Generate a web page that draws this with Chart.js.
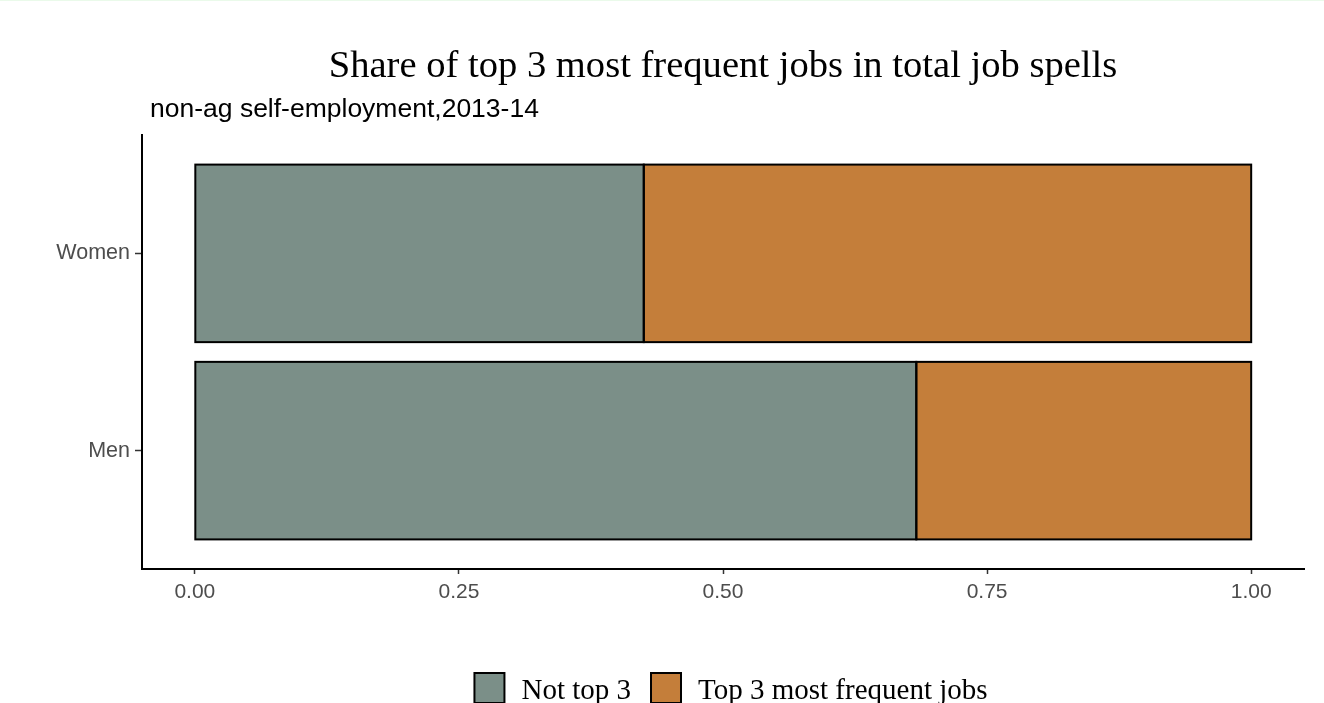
<!DOCTYPE html>
<html>
<head>
<meta charset="utf-8">
<script src="https://cdn.jsdelivr.net/npm/chart.js@4.4.1/dist/chart.umd.min.js"></script>
<style>
  html, body { margin: 0; padding: 0; background: #ffffff; }
  #wrap { position: relative; width: 1324px; height: 703px; overflow: hidden; }
  #topline { position: absolute; left: 0; top: 0; width: 1324px; height: 1px; background: #eafaea; }
  canvas { display: block; }
</style>
</head>
<body>
<div id="wrap">
  <canvas id="c" width="1324" height="703"></canvas>
  <div id="topline"></div>
</div>
<script>
const categories = ['Women', 'Men'];
const seriesNames = ['Not top 3', 'Top 3 most frequent jobs'];
const notTop3 = [0.425, 0.683];
const top3 = [0.575, 0.317];
const xTicks = [0, 0.25, 0.5, 0.75, 1];
const titleText = 'Share of top 3 most frequent jobs in total job spells';
const subtitleText = 'non-ag self-employment,2013-14';

const colors = ['#7b8f88', '#c47e3a'];

// Stroke bar outlines centred on the bar edges (as the reference does)
const barOutline = {
  id: 'barOutline',
  afterDatasetsDraw(chart) {
    const ctx = chart.ctx;
    ctx.save();
    ctx.strokeStyle = '#000';
    ctx.lineWidth = 2;
    chart.data.datasets.forEach((ds, di) => {
      const meta = chart.getDatasetMeta(di);
      meta.data.forEach(el => {
        const p = el.getProps(['x', 'y', 'base', 'height'], true);
        const left = Math.min(p.x, p.base), right = Math.max(p.x, p.base);
        const top = p.y - p.height / 2;
        ctx.strokeRect(left, top, right - left, p.height);
      });
    });
    ctx.restore();
  }
};

const overlay = {
  id: 'overlay',
  afterDraw(chart) {
    const ctx = chart.ctx;
    const ca = chart.chartArea;
    ctx.save();
    // title
    ctx.fillStyle = '#000';
    ctx.font = '38.6px "Liberation Serif", "Times New Roman", serif';
    ctx.textAlign = 'center';
    ctx.textBaseline = 'alphabetic';
    ctx.fillText(titleText, (ca.left + ca.right) / 2, 77);
    // subtitle
    ctx.font = '26.5px "Liberation Sans", Arial, sans-serif';
    ctx.textAlign = 'left';
    ctx.fillText(subtitleText, 150, 117);
    // legend
    ctx.font = '29px "Liberation Serif", "Times New Roman", serif';
    const box = 30, gapBT = 17, gapItems = 20;
    const w0 = ctx.measureText(seriesNames[0]).width;
    const w1 = ctx.measureText(seriesNames[1]).width;
    const total = box + gapBT + w0 + gapItems + box + gapBT + w1;
    let x = 731 - total / 2;
    const boxTop = 673;
    const baseline = 699;
    [0, 1].forEach(i => {
      ctx.fillStyle = colors[i];
      ctx.fillRect(x, boxTop, box, box);
      ctx.strokeStyle = '#000';
      ctx.lineWidth = 2;
      ctx.strokeRect(x, boxTop, box, box);
      x += box + gapBT;
      ctx.fillStyle = '#000';
      ctx.textAlign = 'left';
      ctx.fillText(seriesNames[i], x, baseline);
      x += (i === 0 ? w0 : w1) + gapItems;
    });
    ctx.restore();
  }
};

const mkData = arr => arr.map((v, i) => ({ x: v, y: i + 1 }));

new Chart(document.getElementById('c'), {
  type: 'bar',
  data: {
    datasets: [
      {
        label: seriesNames[0],
        data: mkData(notTop3),
        backgroundColor: colors[0],
        borderWidth: 0,
        borderSkipped: false,
        categoryPercentage: 0.9,
        barPercentage: 1
      },
      {
        label: seriesNames[1],
        data: mkData(top3),
        backgroundColor: colors[1],
        borderWidth: 0,
        borderSkipped: false,
        categoryPercentage: 0.9,
        barPercentage: 1
      }
    ]
  },
  options: {
    indexAxis: 'y',
    responsive: false,
    animation: false,
    events: [],
    layout: { padding: { left: 0, right: 20, top: 135, bottom: 94 } },
    plugins: { legend: { display: false }, title: { display: false }, tooltip: { enabled: false } },
    scales: {
      x: {
        type: 'linear',
        stacked: true,
        offset: false,
        min: -0.05,
        max: 1.05,
        afterBuildTicks: s => { s.ticks = xTicks.map(v => ({ value: v })); },
        afterFit: s => { s.height = 40; },
        border: { display: true, color: '#000', width: 2 },
        grid: { display: true, offset: false, drawOnChartArea: false, drawTicks: true, tickLength: 5, tickWidth: 1.5, tickColor: '#333' },
        ticks: { color: '#4d4d4d', font: { family: '"Liberation Sans", Arial, sans-serif', size: 21 }, padding: 6, maxRotation: 0,
                 callback: v => Number(v).toFixed(2) }
      },
      y: {
        type: 'linear',
        stacked: true,
        reverse: true,
        offset: false,
        min: 0.4,
        max: 2.6,
        afterBuildTicks: s => { s.ticks = categories.map((c, i) => ({ value: i + 1 })); },
        afterFit: s => { s.width = 142; },
        border: { display: true, color: '#000', width: 2 },
        grid: { display: true, offset: false, drawOnChartArea: false, drawTicks: true, tickLength: 7, tickWidth: 1.5, tickColor: '#333' },
        ticks: { color: '#4d4d4d', font: { family: '"Liberation Sans", Arial, sans-serif', size: 21.5 }, padding: 5,
                 callback: v => categories[Math.round(v) - 1] ?? '' }
      }
    }
  },
  plugins: [barOutline, overlay]
});
</script>
</body>
</html>
